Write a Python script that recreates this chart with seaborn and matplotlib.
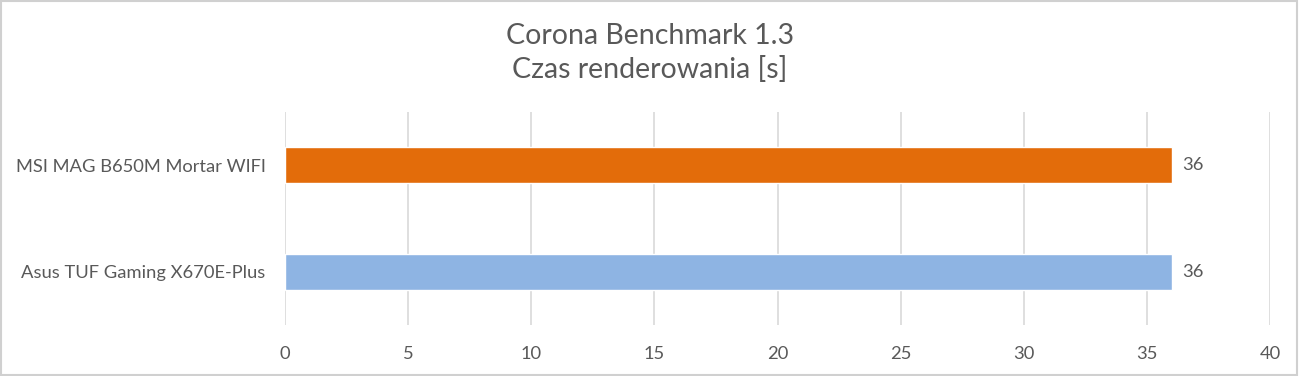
import matplotlib.pyplot as plt
import seaborn as sns
import pandas as pd
from matplotlib.patches import Rectangle

boards = ["MSI MAG B650M Mortar WIFI", "Asus TUF Gaming X670E-Plus"]
render_time = [36, 36]
colors = ["#E36C0A", "#8EB4E3"]
title = "Corona Benchmark 1.3\nCzas renderowania [s]"

sns.set_theme(style="white")
plt.rcParams['font.family'] = ['Lato', 'DejaVu Sans']
text_color = "#595959"

df = pd.DataFrame({"board": boards, "time": render_time})

fig = plt.figure(figsize=(13, 3.76), dpi=100)
ax = fig.add_axes([285 / 1300, 1 - 325 / 376, (1270 - 285) / 1300, (325 - 112) / 376])

sns.barplot(data=df, x="time", y="board", hue="board", palette=colors,
            width=0.34, orient="h", legend=False, ax=ax, saturation=1)

ax.set_xlim(0, 40)
ax.set_ylim(1.5, -0.5)
ax.set_xticks(range(0, 41, 5))
ax.grid(axis="x", color="#d9d9d9", linewidth=1.2)
ax.set_axisbelow(True)
for s in ax.spines.values():
    s.set_visible(False)
ax.set_xlabel("")
ax.set_ylabel("")
ax.tick_params(axis="both", length=0, labelsize=13.2, colors=text_color)
ax.tick_params(axis="y", pad=14)
ax.tick_params(axis="x", pad=15)

for i, v in enumerate(render_time):
    ax.text(v + 0.45, i, f"{v}", va="center", ha="left", fontsize=13.2, color=text_color)

fig.text(0.5, 1 - 53 / 376, title, ha="center", va="center", fontsize=20.5,
         color=text_color, linespacing=1.3)

fig.patches.append(Rectangle((0.001, 0.002), 0.997, 0.995, transform=fig.transFigure,
                             fill=False, edgecolor="#d0d0d0", linewidth=1.5))

fig.savefig("out.png", dpi=100)
